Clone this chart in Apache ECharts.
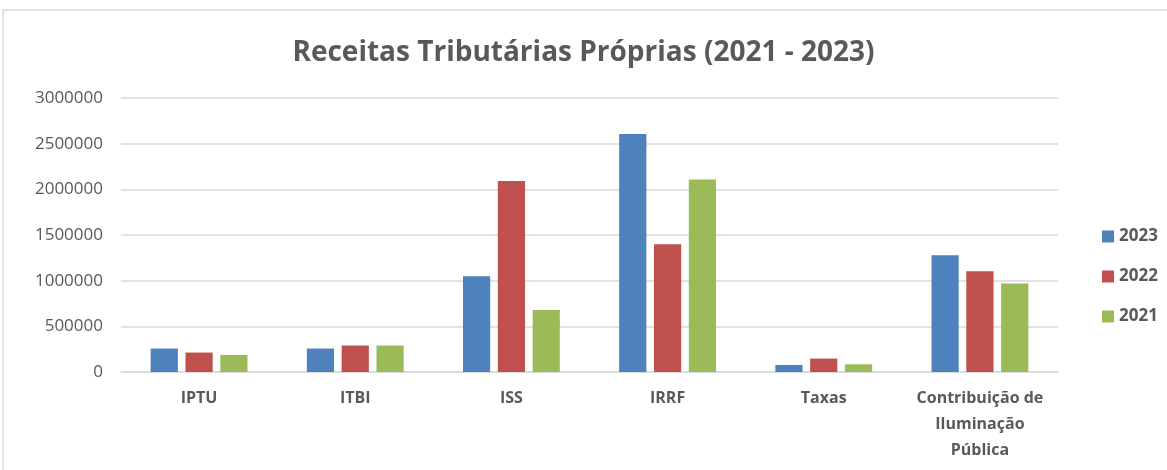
<!DOCTYPE html>
<html>
<head>
<meta charset="utf-8">
<script src="https://cdn.jsdelivr.net/npm/echarts@6/dist/echarts.min.js"></script>
<style>
  html, body { margin: 0; padding: 0; background: #fff; }
  #main { width: 1167px; height: 470px; }
</style>
</head>
<body>
<div id="main"></div>
<script>
// categorias e valores
var categorias = ['IPTU', 'ITBI', 'ISS', 'IRRF', 'Taxas', 'Contribuição de Iluminação Pública'];
var anos = ['2023', '2022', '2021'];
var valores2023 = [257000, 257000, 1047000, 2606000, 77000, 1278000];
var valores2022 = [213000, 290000, 2090000, 1398000, 147000, 1102000];
var valores2021 = [187000, 290000, 680000, 2108000, 84000, 970000];
var cores = ['#4f81bd', '#c0504d', '#9bbb59'];

var fonte = '"Open Sans", sans-serif';
var cinza = '#595959';

var myChart = echarts.init(document.getElementById('main'));

var option = {
	animation: false,
	color: cores,
	title: {
		text: 'Receitas Tributárias Próprias (2021 - 2023)',
		left: 'center',
		top: 30,
		textStyle: {
			fontFamily: fonte,
			fontSize: 28,
			fontWeight: 'bold',
			color: cinza,
			lineHeight: 36
		}
	},
	graphic: [{
		type: 'rect',
		shape: {x: 3, y: 10, width: 1300, height: 600},
		style: {fill: 'none', stroke: '#d9d9d9', lineWidth: 1.5},
		silent: true
	}],
	legend: {
		data: anos,
		orient: 'vertical',
		left: 1097,
		top: 223,
		itemWidth: 12,
		itemHeight: 12,
		itemGap: 23,
		icon: 'rect',
		textStyle: {
			fontFamily: fonte,
			fontSize: 17,
			fontWeight: 'bold',
			color: cinza,
			lineHeight: 17
		}
	},
	grid: {
		left: 121,
		right: 109,
		top: 98,
		bottom: 98,
		containLabel: false
	},
	xAxis: [{
		type: 'category',
		data: categorias,
		axisTick: {show: false},
		axisLine: {lineStyle: {color: '#d9d9d9', width: 1.5}},
		axisLabel: {
			interval: 0,
			margin: 13,
			fontFamily: fonte,
			fontSize: 16,
			fontWeight: 'bold',
			color: cinza,
			lineHeight: 26,
			formatter: function (v) {
				return v.replace('Contribuição de ', 'Contribuição de\n').replace('Iluminação ', 'Iluminação\n');
			}
		}
	}],
	yAxis: [{
		type: 'value',
		min: 0,
		max: 3000000,
		interval: 500000,
		axisLine: {show: false},
		axisTick: {show: false},
		splitLine: {lineStyle: {color: '#d9d9d9', width: 1.5}},
		axisLabel: {
			margin: 18,
			fontFamily: fonte,
			fontSize: 17,
			color: cinza,
			formatter: function (v) { return String(v); }
		}
	}],
	series: [{
		name: '2023',
		type: 'bar',
		barGap: '28%',
		barCategoryGap: '38%',
		data: valores2023
	}, {
		name: '2022',
		type: 'bar',
		data: valores2022
	}, {
		name: '2021',
		type: 'bar',
		data: valores2021
	}]
};
myChart.setOption(option);
</script>
</body>
</html>
